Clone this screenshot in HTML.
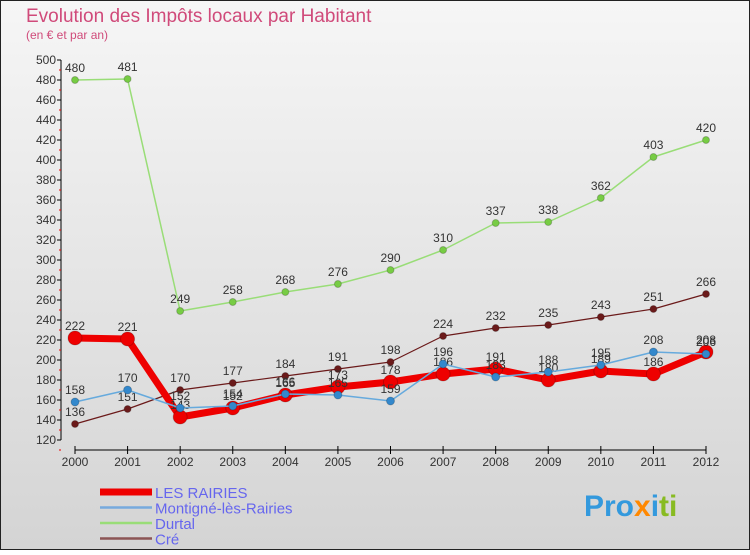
<!DOCTYPE html>
<html><head><meta charset="utf-8"><style>
body{margin:0;width:750px;height:550px;overflow:hidden;font-family:"Liberation Sans",sans-serif}
</style></head><body>
<svg width="750" height="550" xmlns="http://www.w3.org/2000/svg">
<defs><linearGradient id="bg" x1="0" y1="0" x2="0" y2="1"><stop offset="0" stop-color="#f6f6f6"/><stop offset="1" stop-color="#d4d4d4"/></linearGradient></defs>
<rect x="0.5" y="0.5" width="749" height="549" fill="url(#bg)" stroke="#222"/>
<text x="26" y="22" font-size="19" fill="#d04a7a">Evolution des Impôts locaux par Habitant</text>
<text x="26" y="39" font-size="12" fill="#d04a7a">(en € et par an)</text>
<g id="axes"></g><g id="series"></g><g id="legend"></g>
<text x="584" y="516" font-size="30" font-weight="bold"><tspan fill="#3399dd">Pro</tspan><tspan fill="#ff8800">x</tspan><tspan fill="#3399dd">i</tspan><tspan fill="#88bb22">ti</tspan></text>
</svg>
<script>
const years=[2000,2001,2002,2003,2004,2005,2006,2007,2008,2009,2010,2011,2012];
const lesRairies=[222,221,143,152,165,173,178,186,191,180,189,186,208];
const montigne=[158,170,152,154,166,165,159,196,183,188,195,208,206];
const durtal=[480,481,249,258,268,276,290,310,337,338,362,403,420];
const cre=[136,151,170,177,184,191,198,224,232,235,243,251,266];
const yTicks=[120,140,160,180,200,220,240,260,280,300,320,340,360,380,400,420,440,460,480,500];
const NS="http://www.w3.org/2000/svg";
const xs=i=>75+i*(706-75)/12;
const ys=v=>60+(500-v);
function mk(p,tag,at){const e=document.createElementNS(NS,tag);for(const k in at)e.setAttribute(k,at[k]);p.appendChild(e);return e;}
const ax=document.getElementById('axes');
const yl=mk(ax,'line',{x1:61,y1:60,x2:61,y2:440,stroke:'#000'});


yTicks.forEach(v=>{
 mk(ax,'line',{x1:57,y1:ys(v),x2:61,y2:ys(v),stroke:'#000'});
 mk(ax,'line',{x1:59,y1:ys(v)+10,x2:61,y2:ys(v)+10,stroke:'#e00'});
 const t=mk(ax,'text',{x:56,y:ys(v)+4,'font-size':12,'text-anchor':'end',fill:'#333'});t.textContent=v;
 
 
});
const xl=mk(ax,'line',{x1:75,y1:450,x2:706,y2:450,stroke:'#000'});


years.forEach((y,i)=>{
 mk(ax,'line',{x1:xs(i),y1:446,x2:xs(i),y2:454,stroke:'#000'});
 const t=mk(ax,'text',{x:xs(i),y:466,'font-size':12,'text-anchor':'middle',fill:'#333'});t.textContent=y;
 
 
});
const sg=document.getElementById('series');
const series=[
 {name:'cre',d:cre,c:'#6b1a1a',w:1.2,r:3.5,pc:'#6b1a1a'},
 {name:'durtal',d:durtal,c:'#99dd77',w:1.5,r:3.5,pc:'#77cc44'},
 {name:'les-rairies',d:lesRairies,c:'#ee0000',w:7,r:7,pc:'#ee0000'},
 {name:'montigne',d:montigne,c:'#66aadd',w:1.5,r:4,pc:'#3388cc'}];
series.forEach(s=>{
 const g=mk(sg,'g',{});
 
 
 const pl=mk(g,'polyline',{points:s.d.map((v,i)=>xs(i)+','+ys(v)).join(' '),fill:'none',stroke:s.c,'stroke-width':s.w,'stroke-linejoin':'round'});
 
 
 s.d.forEach((v,i)=>{
  const c=mk(g,'circle',{cx:xs(i),cy:ys(v),r:s.r,fill:s.pc,stroke:'rgba(0,0,0,0.2)'});
  
  
  const t=mk(g,'text',{x:xs(i),y:ys(v)-8,'font-size':12,'text-anchor':'middle',fill:'#333'});t.textContent=v;
  
  
 });
});
const lg=document.getElementById('legend');
[['LES RAIRIES','#ee0000',7],['Montigné-lès-Rairies','#77aadd',2.5],['Durtal','#99dd77',2.5],['Cré','#8b5555',2.5]].forEach((e,i)=>{
 const y=492+i*15.5;
 const l=mk(lg,'line',{x1:100,y1:y,x2:152,y2:y,stroke:e[1],'stroke-width':e[2]});
 
 
 const t=mk(lg,'text',{x:155,y:y+6,'font-size':15,fill:'#6666ee'});t.textContent=e[0];
 
 
});
</script>
</body></html>
